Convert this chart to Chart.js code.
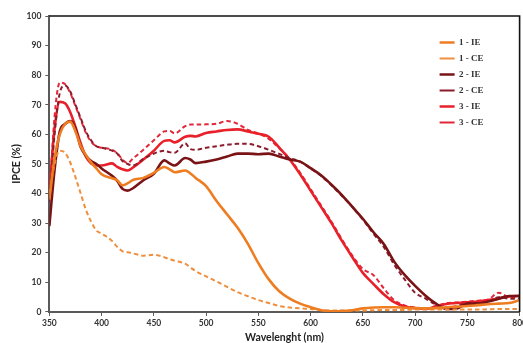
<!DOCTYPE html>
<html>
<head>
<meta charset="utf-8">
<title>IPCE</title>
<script src="https://cdn.jsdelivr.net/npm/chart.js@4.4.1/dist/chart.umd.min.js"></script>
<style>
    html, body { margin: 0; padding: 0; background: #fff; overflow: hidden; }
    #ipceChart { display: block; }
</style>
</head>
<body>
<canvas id="ipceChart" width="530" height="343"></canvas>
<script>
// wavelength grid (nm), shared by all series
var wavelengths = [350, 355, 360, 365, 370, 375, 380, 385, 390, 395, 400,
    410, 415, 420, 425, 430, 440, 450, 460, 465, 470, 480, 485, 490,
    500, 510, 520, 530, 540, 550, 560, 570, 580, 590, 600,
    610, 620, 630, 640, 650, 660, 670, 680, 690, 700,
    710, 720, 730, 740, 750, 760, 770, 780, 790, 800];

var ie1 = [38, 52, 60, 63.5, 64.3, 61, 56, 53, 50.5, 48.5, 46.5,
    45.2, 44.5, 42.8, 43.5, 44.6, 45.3, 47, 49, 48.2, 47.2, 47.8, 46.8, 45.3,
    42.5, 37.5, 33, 28.5, 23, 16.5, 11, 7, 4.5, 2.8, 1.6,
    0.6, 0.2, 0.3, 0.6, 1.2, 1.5, 1.6, 1.6, 1.4, 1.3,
    1.2, 1.3, 1.6, 1.8, 2, 2.3, 2.6, 2.8, 3, 4];

var ce1 = [40, 50, 54.5, 53.8, 50.5, 45.5, 40, 34.5, 30.5, 27.5, 26.5,
    24, 22, 20.5, 20.2, 19.8, 19, 19.3, 18.5, 17.8, 17.3, 16.3, 15, 13.8,
    12, 10.3, 8.5, 6.7, 5.3, 4, 3, 2, 1.5, 1.2, 1,
    0.7, 0.5, 0.5, 0.5, 0.5, 0.6, 0.7, 0.7, 0.7, 0.8,
    0.8, 0.8, 0.8, 0.8, 0.8, 0.8, 0.9, 1, 1, 1];

var ie2 = [29, 48, 61, 63.5, 64.5, 62, 55.7, 52.8, 51, 50, 48.5,
    46, 44.3, 41.6, 41, 41.8, 44.5, 46.7, 51.2, 50.2, 49.5, 52, 51.5, 50.3,
    50.8, 51.5, 52.5, 53.5, 53.5, 53.3, 53.5, 52.5, 51.5, 50.8, 48.6,
    46.2, 43, 39.5, 35.5, 31.5, 27, 23, 17, 12.5, 8.8,
    5.5, 2.8, 1, 1.2, 2.8, 2.8, 3.5, 4.5, 5.4, 5.4];

var ce2 = [37, 60, 74, 76.5, 74.5, 70, 65.5, 61, 58, 56, 55.5,
    54.5, 53.5, 51, 50, 49.5, 51.7, 53.5, 54.5, 54, 53.8, 57, 55, 54.8,
    55.5, 56, 56.5, 56.8, 56.8, 56, 54.8, 53.4, 52, 50.8, 48.5,
    46, 42.8, 39.2, 35.5, 31.2, 26.5, 22, 16, 11, 6.5,
    4.5, 2.5, 1.5, 2, 3, 3, 3.5, 5, 4.5, 4.5];

var ie3 = [40, 62, 71, 70.5, 67.5, 62.5, 57, 52.5, 50.2, 49.6, 49.5,
    50.2, 49, 48.2, 47.8, 48.8, 51.5, 54.5, 57.8, 58, 57.3, 59.2, 59.5, 59.3,
    60.5, 61, 61.5, 61.7, 61, 60.2, 59.2, 55.5, 51.5, 46.5, 41,
    35.5, 30, 24, 18.5, 13.2, 9.5, 6, 3.3, 1.8, 1.3,
    1, 1.8, 2.7, 3, 3.3, 3.5, 4, 4.5, 5.2, 5.5];

var ce3 = [38, 66, 77.5, 77, 74, 69.5, 65, 60.5, 57.5, 56, 55.5,
    54.8, 53.6, 51.5, 50.3, 51.8, 54.8, 58, 61, 61.2, 60.3, 62.8, 63.3, 63.3,
    63.4, 63.6, 64.5, 63.6, 61.5, 60.3, 58.5, 55.3, 51.8, 47, 41.5,
    36, 30.5, 24.5, 19, 14.5, 12.5, 8, 4, 2.2, 1.5,
    1.2, 2, 3, 3.2, 3.5, 3.8, 4.2, 6.5, 5, 5];

var seriesLabels = ['1 - IE', '1 - CE', '2 - IE', '2 - CE', '3 - IE', '3 - CE'];

function toPoints(values) {
    var pts = [];
    for (var i = 0; i < wavelengths.length; i++) {
        pts.push({ x: wavelengths[i], y: values[i] });
    }
    return pts;
}

function makeSet(label, values, color, dashed) {
    return {
        label: label,
        data: toPoints(values),
        borderColor: color,
        backgroundColor: color,
        borderWidth: dashed ? 2 : 2.6,
        borderDash: dashed ? [4.5, 3] : [],
        pointRadius: 0,
        pointStyle: 'line',
        cubicInterpolationMode: 'monotone',
        fill: false
    };
}

// draws the top and right edges of the frame
var frameBox = {
    id: 'frameBox',
    afterDatasetsDraw: function (chart) {
        var a = chart.chartArea, ctx = chart.ctx;
        ctx.save();
        ctx.strokeStyle = '#111';
        ctx.lineWidth = 1.6;
        ctx.beginPath();
        ctx.moveTo(a.left, a.top);
        ctx.lineTo(a.right, a.top);
        ctx.lineTo(a.right, a.bottom);
        ctx.stroke();
        ctx.restore();
    }
};

// puts the legend block in the upper right of the plot
var legendSpot = {
    id: 'legendSpot',
    afterLayout: function (chart) {
        var lg = chart.legend, a = chart.chartArea;
        lg.left = a.right - 87;
        lg.right = a.right;
        lg.top = a.top + 15;
    }
};

var axisFont = { family: 'Lato, "Open Sans", sans-serif', size: 8.5, weight: 'bold', lineHeight: 1.0 };
var titleFont = { family: 'Lato, "Open Sans", sans-serif', size: 10.5, weight: 'bold', lineHeight: 1.1 };

var ctx = document.getElementById('ipceChart').getContext('2d');
var ipceChart = new Chart(ctx, {
    type: 'line',
    data: {
        datasets: [
            makeSet(seriesLabels[0], ie1, '#ee7d22', false),
            makeSet(seriesLabels[1], ce1, '#ef8f3e', true),
            makeSet(seriesLabels[2], ie2, '#7a1316', false),
            makeSet(seriesLabels[3], ce2, '#8b1c2c', true),
            makeSet(seriesLabels[4], ie3, '#e8202a', false),
            makeSet(seriesLabels[5], ce3, '#e0283a', true)
        ]
    },
    options: {
        responsive: false,
        animation: false,
        devicePixelRatio: 1,
        layout: { padding: { left: 2, right: 8, top: 16, bottom: 0 } },
        plugins: {
            tooltip: { enabled: false },
            legend: {
                position: 'chartArea',
                align: 'start',
                labels: {
                    usePointStyle: true,
                    pointStyleWidth: 15,
                    padding: 7,
                    color: '#333',
                    font: { family: '"Liberation Serif", serif', size: 9, weight: 'bold' }
                }
            }
        },
        scales: {
            x: {
                type: 'linear',
                min: 350,
                max: 800,
                border: { display: true, color: '#5a5a5a', width: 2 },
                grid: { display: true, drawOnChartArea: false, drawTicks: true, tickLength: 4, color: '#5a5a5a' },
                ticks: { stepSize: 50, padding: 3, color: '#333', font: axisFont, maxRotation: 0 },
                title: { display: true, text: 'Wavelenght (nm)', color: '#222', font: titleFont, padding: { top: 1, bottom: 0 } }
            },
            y: {
                min: 0,
                max: 100,
                border: { display: true, color: '#5a5a5a', width: 2 },
                grid: { display: true, drawOnChartArea: false, drawTicks: true, tickLength: 4, color: '#5a5a5a' },
                ticks: { stepSize: 10, padding: 4, color: '#333', font: axisFont },
                title: { display: true, text: 'IPCE (%)', color: '#222', font: titleFont, padding: { top: 9, bottom: 0 } }
            }
        }
    },
    plugins: [frameBox, legendSpot]
});
</script>
</body>
</html>
